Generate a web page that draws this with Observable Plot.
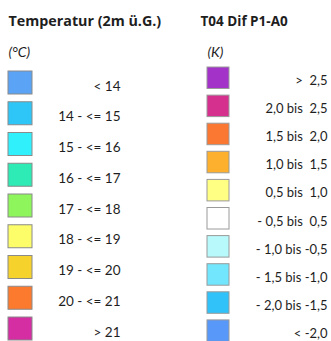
<!DOCTYPE html>
<html><head><meta charset="utf-8">
<script src="https://cdn.jsdelivr.net/npm/d3@7"></script>
<script src="https://cdn.jsdelivr.net/npm/@observablehq/plot@0.6"></script>
<style>
body{margin:0;background:#fff;}
svg text{white-space:pre;}
</style></head>
<body><div id="chart"></div>
<script>
const leftTitle = "Temperatur (2m ü.G.)";
const leftUnit = "(°C)";
const leftLabels = ["< 14","14 - <= 15","15 - <= 16","16 - <= 17","17 - <= 18","18 - <= 19","19 - <= 20","20 - <= 21","> 21"];
const leftColors = ["#5ba3f4","#2ec6f6","#30f0fc","#2eeab4","#8ef55c","#fdfd6a","#f6d22c","#fb7a2e","#d42ea2"];

const rightTitle = "T04 Dif P1-A0";
const rightUnit = "(K)";
const rightLabels = [">  2,5","2,0 bis  2,5","1,5 bis  2,0","1,0 bis  1,5","0,5 bis  1,0","- 0,5 bis  0,5","- 1,0 bis -0,5","- 1,5 bis -1,0","- 2,0 bis -1,5","< -2,0"];
const rightColors = ["#a232c8","#d6308e","#fb7832","#fcb02e","#ffff84","#ffffff","#b8fafc","#72e6fc","#30c2f8","#5898f8"];

const W = 331, H = 341;
const L = {x: 8, w: 24, top: 71, pitch: 30.75, h: 23, tx: 120, fs: 13.5};
const R = {x: 207, w: 22, top: 67, pitch: 28.1, h: 21.5, tx: 327, fs: 13};

const left = leftLabels.map((label, i) => ({label, color: leftColors[i], i}));
const right = rightLabels.map((label, i) => ({label, color: rightColors[i], i}));
const titles = [
  {text: leftTitle, x: 8, y: 25, weight: "bold", style: "normal", size: 14.3, font: "'Open Sans', sans-serif"},
  {text: rightTitle, x: 200, y: 25, weight: "bold", style: "normal", size: 13.5, font: "'Open Sans', sans-serif"},
  {text: leftUnit, x: 8, y: 56, weight: "normal", style: "italic", size: 14, font: "Lato, sans-serif"},
  {text: rightUnit, x: 207, y: 56, weight: "normal", style: "italic", size: 14, font: "Lato, sans-serif"}
];

const font = "Lato, 'Open Sans', sans-serif";
const plot = Plot.plot({
  width: W, height: H, margin: 0,
  x: {type: "identity", axis: null}, y: {type: "identity", axis: null},
  style: {fontFamily: font, background: "#fff"},
  marks: [
    Plot.rect(left, {x1: L.x, x2: L.x + L.w, y1: d => L.top + d.i * L.pitch, y2: d => L.top + d.i * L.pitch + L.h, fill: "color", stroke: "#8a8a8a", strokeWidth: 1}),
    Plot.text(left, {x: L.tx, y: d => L.top + d.i * L.pitch + 19, text: "label", textAnchor: "end", lineAnchor: "bottom", fontSize: L.fs, fill: "#1e1e1e"}),
    Plot.rect(right, {x1: R.x, x2: R.x + R.w, y1: d => R.top + d.i * R.pitch, y2: d => R.top + d.i * R.pitch + R.h, fill: "color", stroke: "#9a9a9a", strokeWidth: 1}),
    Plot.text(right, {x: R.tx, y: d => R.top + d.i * R.pitch + 17.5, text: "label", textAnchor: "end", lineAnchor: "bottom", fontSize: R.fs, fill: "#1e1e1e"}),
    ...titles.map(t => Plot.text([t], {x: "x", y: "y", text: "text", textAnchor: "start", lineAnchor: "bottom", fontSize: t.size, fontWeight: t.weight, fontStyle: t.style, fontFamily: t.font, fill: "#1e1e1e"}))
  ]
});
document.getElementById("chart").appendChild(plot);
</script></body></html>
